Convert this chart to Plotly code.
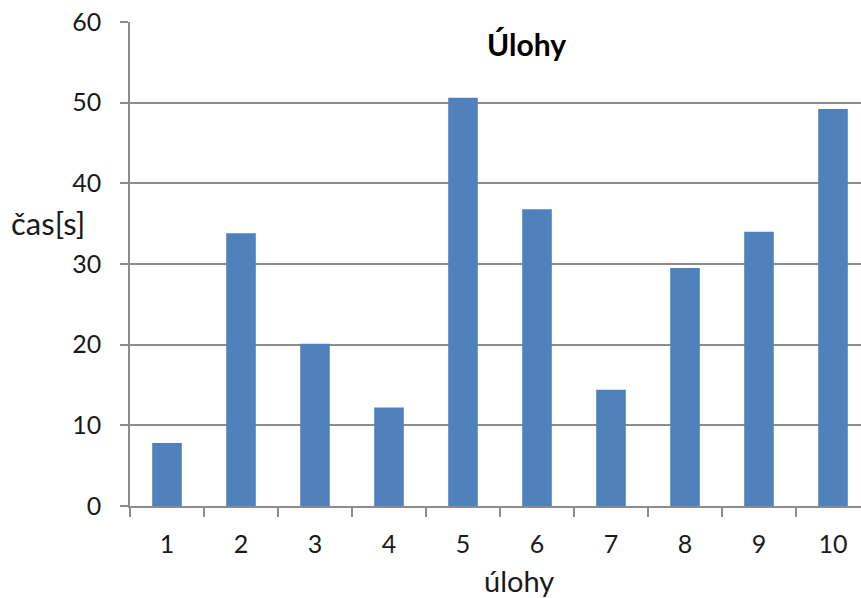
import plotly.graph_objects as go

categories = ["1", "2", "3", "4", "5", "6", "7", "8", "9", "10"]
values = [7.8, 33.8, 20.1, 12.2, 50.6, 36.8, 14.4, 29.5, 34.0, 49.2]
y_ticks = [0, 10, 20, 30, 40, 50, 60]

W, H = 861, 598
L, R, T, B = 130, 0, 22, 92
FONT = "Lato"
GRID = "#8c8c8c"
TXT = "#1a1a1a"

fig = go.Figure(go.Bar(x=categories, y=values, marker=dict(color="#4F81BD", line=dict(width=0)), width=0.4))

plot_w = W - L - R
plot_h = H - T - B

def px(xpix):
    return (xpix - L) / plot_w

def py(ypix):
    return (H - B - ypix) / plot_h

fig.update_layout(
    width=W, height=H,
    margin=dict(l=L, r=R, t=T, b=B, pad=0, autoexpand=False),
    paper_bgcolor="white", plot_bgcolor="white",
    showlegend=False,
    font=dict(family=FONT, size=25, color=TXT),
    xaxis=dict(
        type="category",
        range=[-0.5, 9.5 - 9 / 74],
        showline=True, linecolor=GRID, linewidth=1.5,
        ticks="outside", ticklen=9, tickcolor=GRID, tickwidth=1.5,
        tickson="boundaries",
        showgrid=False,
        ticklabelstandoff=15,
        tickfont=dict(family=FONT, size=25, color=TXT),
    ),
    yaxis=dict(
        range=[0, 60],
        tickvals=y_ticks,
        showline=True, linecolor=GRID, linewidth=1.5,
        ticks="outside", ticklen=8, tickcolor=GRID, tickwidth=1.5,
        showgrid=True, gridcolor=GRID, gridwidth=1.5,
        zeroline=False,
        ticklabelstandoff=14,
        tickfont=dict(family=FONT, size=25, color=TXT),
    ),
    annotations=[
        dict(text="<b>Úlohy</b>", x=px(526), y=py(44), xref="paper", yref="paper",
             showarrow=False, xanchor="center", yanchor="middle", font=dict(family=FONT, size=30, color="black")),
        dict(text="čas[s]", x=px(9), y=py(223), xref="paper", yref="paper",
             showarrow=False, xanchor="left", yanchor="middle", font=dict(family=FONT, size=31, color=TXT)),
        dict(text="úlohy", x=px(519), y=py(580), xref="paper", yref="paper",
             showarrow=False, xanchor="center", yanchor="middle", font=dict(family=FONT, size=29, color=TXT)),
    ],
)

fig.write_html("out.html", config={"displayModeBar": False},
               post_script="document.body.style.margin='0';document.body.style.overflow='hidden';")
